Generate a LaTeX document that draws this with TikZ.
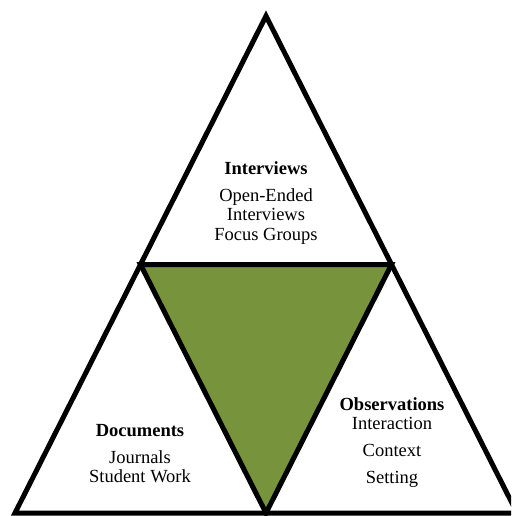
\documentclass[tikz,border=0pt]{standalone}
\usepackage{fontspec}
\setmainfont{Liberation Serif}
\definecolor{olivegreen}{RGB}{119,147,60}
\begin{document}
\begin{tikzpicture}[x=1pt,y=-1pt,
  edge/.style={line width=5pt,line join=miter},
  label/.style={anchor=base,inner sep=0pt,font=\fontsize{18.5}{20}\selectfont},
  title/.style={label,font=\fontsize{18.5}{20}\selectfont\bfseries}]
  \useasboundingbox (0,0) rectangle (511,516);
  \clip (0,0) rectangle (511,516);
  % corners of the large triangle and the midpoints of its sides
  \coordinate (top) at (266,16);
  \coordinate (bl) at (15,513);
  \coordinate (br) at (517,513);
  \coordinate (ml) at (140.5,264.5);
  \coordinate (mr) at (391.5,264.5);
  \coordinate (mb) at (266,513);
  % central inverted triangle
  \fill[olivegreen] (ml) -- (mr) -- (mb) -- cycle;
  \draw[edge] (ml) -- (mr) -- (mb) -- cycle;
  % outer triangle
  \draw[edge] (top) -- (br) -- (bl) -- cycle;
  % top section
  \node[title] (iv) at (266,174) {Interviews};
  \node[label] (iv1) at (266,201) {Open-Ended};
  \node[label] (iv2) at (266,220) {Interviews};
  \node[label] (iv3) at (266,240) {Focus Groups};
  % left section
  \node[title] (doc) at (140,436) {Documents};
  \node[label] (doc1) at (140,463) {Journals};
  \node[label] (doc2) at (140,482) {Student Work};
  % right section
  \node[title] (obs) at (392,410) {Observations};
  \node[label] (obs1) at (392,429) {Interaction};
  \node[label] (obs2) at (392,456) {Context};
  \node[label] (obs3) at (392,483) {Setting};
\end{tikzpicture}
\end{document}
